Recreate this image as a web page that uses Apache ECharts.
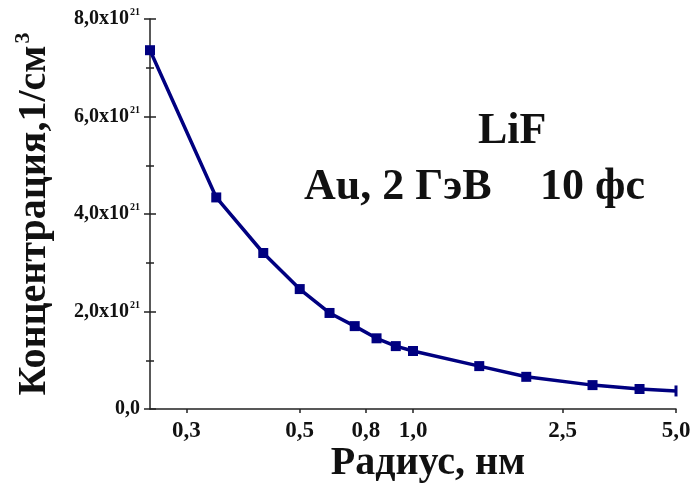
<!DOCTYPE html>
<html>
<head>
<meta charset="utf-8">
<script src="https://cdn.jsdelivr.net/npm/echarts@6/dist/echarts.min.js"></script>
<style>
  html, body { margin: 0; padding: 0; background: #fff; }
  #chart { width: 695px; height: 495px; }
</style>
</head>
<body>
<div id="chart"></div>
<script>
// радиус, нм
var radius = [0.2, 0.3, 0.4, 0.5, 0.6, 0.7, 0.8, 0.9, 1.0, 1.5, 2.0, 3.0, 4.0, 5.0]
// концентрация, 1/см^3
var concentration = [7.36e21, 4.34e21, 3.20e21, 2.46e21, 1.97e21, 1.70e21, 1.45e21,
  1.29e21, 1.19e21, 0.88e21, 0.66e21, 0.49e21, 0.41e21, 0.37e21]
var xTicks = [0.25, 0.5, 0.75, 1.0, 2.5, 5.0]

var serif = 'Liberation Serif'
var navy = '#000080'

var chart = echarts.init(document.getElementById('chart'))

var points = radius.map(function (r, i) { return [r, concentration[i]] })

chart.setOption({
  backgroundColor: '#fff',
  animation: false,
  grid: {
    left: 150,
    right: 19,
    top: 19,
    bottom: 86
  },
  xAxis: {
    type: 'log',
    logBase: 10,
    min: 0.2,
    max: 5,
    name: 'Радиус, нм',
    nameLocation: 'middle',
    nameGap: 35,
    nameMoveOverlap: false,
    nameTextStyle: {
      fontFamily: serif,
      fontWeight: 'bold',
      fontSize: 40,
      color: '#111',
      padding: [0, 0, 0, 30]
    },
    axisLine: { lineStyle: { color: '#222', width: 1.5 } },
    axisTick: {
      customValues: xTicks,
      length: 4,
      lineStyle: { color: '#222', width: 1.5 }
    },
    minorTick: { show: false },
    axisLabel: {
      customValues: xTicks,
      margin: 11,
      fontFamily: serif,
      fontWeight: 'bold',
      fontSize: 23,
      color: '#111',
      formatter: function (v) {
        return v.toFixed(1).replace('.', ',')
      }
    },
    splitLine: { show: false }
  },
  yAxis: [{
    type: 'value',
    min: 0,
    max: 8e21,
    interval: 2e21,
    name: 'Концентрация,1/см{s|3}',
    nameLocation: 'middle',
    nameGap: 92,
    nameTextStyle: {
      fontFamily: serif,
      fontWeight: 'bold',
      fontSize: 40,
      color: '#111',
      rich: {
        s: {
          fontFamily: serif,
          fontWeight: 'bold',
          fontSize: 22,
          color: '#111',
          verticalAlign: 'top',
          padding: [0, 0, 24, 2]
        }
      }
    },
    axisLine: { show: true, lineStyle: { color: '#222', width: 1.5 } },
    axisTick: { length: 6, lineStyle: { color: '#222', width: 1.5 } },
    minorTick: { show: true, splitNumber: 2, length: 4, lineStyle: { color: '#222', width: 1.5 } },
    axisLabel: {
      margin: 10,
      fontFamily: serif,
      fontWeight: 'bold',
      fontSize: 20,
      color: '#111',
      formatter: function (v) {
        if (v === 0) return '{m|0,0}'
        return '{m|' + (v / 1e21).toFixed(1).replace('.', ',') + 'x10}{s|21}'
      },
      rich: {
        m: { fontFamily: serif, fontWeight: 'bold', fontSize: 20, color: '#111' },
        s: {
          fontFamily: serif, fontWeight: 'bold', fontSize: 10, color: '#111',
          verticalAlign: 'top', padding: [0, 0, 13, 1]
        }
      }
    },
    splitLine: { show: false }
  }, {
    // второй экземпляр оси: засечки внутрь, чтобы они пересекали ось
    type: 'value',
    position: 'left',
    min: 0,
    max: 8e21,
    interval: 2e21,
    axisLine: { show: false },
    axisTick: { inside: true, length: 6, lineStyle: { color: '#222', width: 1.5 } },
    minorTick: { show: true, splitNumber: 2, length: 4, lineStyle: { color: '#222', width: 1.5 } },
    axisLabel: { show: false },
    splitLine: { show: false }
  }],
  graphic: [{
    type: 'text',
    left: 478,
    top: 110,
    style: {
      text: 'LiF',
      font: 'bold 44px "Liberation Serif"',
      fill: '#111'
    }
  }, {
    type: 'text',
    left: 304,
    top: 166,
    style: {
      text: 'Au, 2 ГэВ',
      font: 'bold 44px "Liberation Serif"',
      fill: '#111'
    }
  }, {
    type: 'text',
    left: 540,
    top: 166,
    style: {
      text: '10 фс',
      font: 'bold 44px "Liberation Serif"',
      fill: '#111'
    }
  }],
  series: [{
    type: 'line',
    data: points,
    symbol: 'rect',
    symbolSize: function (val, params) {
      return params.dataIndex === radius.length - 1 ? [3, 11] : 10
    },
    lineStyle: { color: navy, width: 3.5 },
    itemStyle: { color: navy },
    z: 3
  }]
})
</script>
</body>
</html>
